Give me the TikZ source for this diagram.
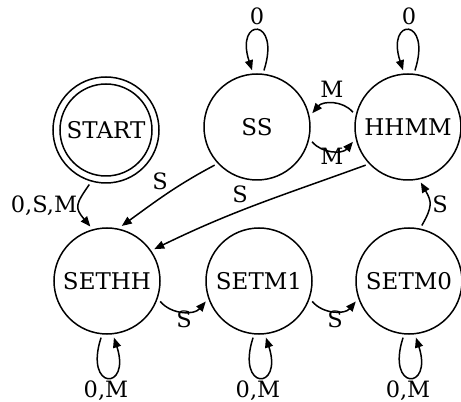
\documentclass[tikz,border=0pt]{standalone}
\usepackage{fontspec}
\setmainfont{DejaVu Serif}
\usetikzlibrary{arrows.meta}
\begin{document}
\begin{tikzpicture}[x=1pt,y=1pt,
  state/.style={circle,draw,line width=1.5pt,minimum size=106pt,inner sep=0pt,outer sep=4pt,font=\fontsize{23}{27}\selectfont},
  lbl/.style={anchor=base,inner sep=0pt,font=\fontsize{22.5}{27}\selectfont},
  tr/.style={line width=1.5pt,-{Triangle[length=10pt,width=8pt]}},
]
\useasboundingbox (0,0) rectangle (461,402);
% states
\node[state] (start) at (106,272) {START};
\draw[line width=1.5pt] (start.center) circle[radius=46pt];
\node[state] (ss) at (257,275) {SS};
\node[state] (hhmm) at (408,275) {HHMM};
\node[state] (sethh) at (107,121) {SETHH};
\node[state] (setm1) at (259,121) {SETM1};
\node[state] (setm0) at (409,121) {SETM0};
% edges
\draw[tr] (ss.222) to[out=208,in=36] (sethh.75);
\draw[tr] (hhmm.222) to[out=200,in=26] (sethh.34);
\draw[tr] (start.253) to[out=235,in=130,looseness=1.5] (sethh.107);
\draw[tr] (hhmm.165) to[out=130,in=50] (ss.14);
\draw[tr] (ss.-15) to[out=-50,in=-130] (hhmm.195);
\draw[tr] (sethh.-21) to[out=-50,in=-130] (setm1.201);
\draw[tr] (setm1.-21) to[out=-50,in=-130] (setm0.201);
\draw[tr] (setm0.77) to[out=60,in=-60,looseness=1.3] (hhmm.283);
% loops
\draw[tr] (ss.83) .. controls +(72:56) and +(108:56) .. (ss.95);
\draw[tr] (hhmm.83) .. controls +(72:56) and +(108:56) .. (hhmm.95);
\draw[tr] (sethh.264) .. controls +(252:56) and +(288:56) .. (sethh.277);
\draw[tr] (setm1.264) .. controls +(252:56) and +(288:56) .. (setm1.277);
\draw[tr] (setm0.264) .. controls +(252:56) and +(288:56) .. (setm0.277);
% labels
\node[lbl] (l1) at (257,377) {0};
\node[lbl] (l2) at (409,377) {0};
\node[lbl] (l3) at (106,4) {0,M};
\node[lbl] (l4) at (258,4) {0,M};
\node[lbl] (l5) at (408,4) {0,M};
\node[lbl] (l6) at (44,189) {0,S,M};
\node[lbl] (l7) at (332,304) {M};
\node[lbl] (l8) at (332,237) {M};
\node[lbl] (l9) at (160,212) {S};
\node[lbl] (l10) at (240,199) {S};
\node[lbl] (l11) at (184,74) {S};
\node[lbl] (l12) at (335,74) {S};
\node[lbl] (l13) at (440,189) {S};
\end{tikzpicture}
\end{document}
